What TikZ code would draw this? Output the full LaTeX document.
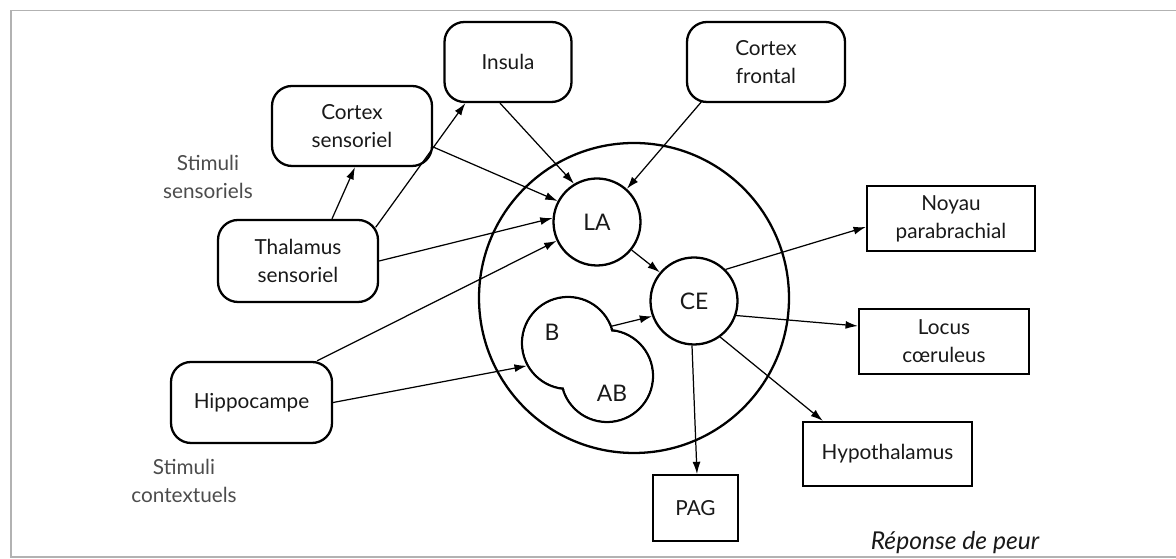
\documentclass[tikz,border=0pt]{standalone}
\usepackage{fontspec}
\setmainfont{Lato}
\usetikzlibrary{arrows.meta,positioning}

\begin{document}
\begin{tikzpicture}[
    >={Latex[length=7pt,width=4.5pt]},
    every node/.style={font=\fontsize{11.8}{15.9}\selectfont, text=black!90},
    region/.style={draw, line width=1.3pt, rounded corners=0.4cm, align=center, inner sep=0pt},
    output/.style={draw, line width=1.3pt, align=center, inner sep=0pt},
    nucleus/.style={draw, circle, line width=1.3pt, inner sep=0pt},
    big/.style={font=\fontsize{13}{15}\selectfont},
    link/.style={->, line width=0.7pt}
  ]
                \useasboundingbox (0,0) rectangle (23.52,11.18);
                \draw[gray!60, line width=0.6pt] (23.6,0.04) -- (0.22,0.04)
                            -- (0.22,10.97) -- (23.6,10.97);

                % sources
                \node [region, minimum width=3.2cm, minimum height=1.64cm]
                                        (thal) at (5.96,5.96) {Thalamus\\sensoriel};
                \node [region, minimum width=3.2cm, minimum height=1.6cm]
                                        (cortsens) at (7.04,8.66) {Cortex\\sensoriel};
                \node [region, minimum width=2.54cm, minimum height=1.6cm]
                                        (insula) at (10.16,9.94) {Insula};
                \node [region, minimum width=3.16cm, minimum height=1.6cm]
                                        (cortfront) at (15.32,9.94) {Cortex\\frontal};
                \node [region, minimum width=3.22cm, minimum height=1.62cm]
                                        (hippo) at (5.03,3.13) {Hippocampe};
                \node [align=center, text=black!70] (stimsens) at (4.16,7.64) {Stimuli\\sensoriels};
                \node [align=center, text=black!70] (stimctx) at (3.68,1.56) {Stimuli\\contextuels};

                % amygdala
                \node [nucleus, minimum size=6.2cm] (amyg) at (12.68,5.22) {};
                \node [nucleus, big, minimum size=1.74cm] (la) at (11.94,6.74) {LA};
                \node [nucleus, big, minimum size=1.74cm] (ce) at (13.88,5.16) {CE};
                \node [nucleus, minimum size=1.84cm] (b) at (11.36,4.32) {};
                \node [nucleus, minimum size=1.84cm] (ab) at (12.14,3.66) {};
                \fill[white] (b) circle (0.893cm);
                \fill[white] (ab) circle (0.893cm);
                \node [big] (blabel) at (11.04,4.54) {B};
                \node [big] (ablabel) at (12.24,3.32) {AB};

                % outputs
                \node [output, minimum width=3.36cm, minimum height=1.3cm]
                                        (noyau) at (19.02,6.81) {Noyau\\parabrachial};
                \node [output, minimum width=3.4cm, minimum height=1.3cm]
                                        (locus) at (18.88,4.35) {Locus\\cœruleus};
                \node [output, minimum width=3.38cm, minimum height=1.28cm]
                                        (hypo) at (17.75,2.10) {Hypothalamus};
                \node [output, minimum width=1.7cm, minimum height=1.32cm,
                        below = 2.57cm of ce, xshift=0.03cm]
                                        (pag) {PAG};
                \node [font=\fontsize{14}{16}\selectfont\itshape]
                                        (reponse) at (19.1,0.32) {Réponse de peur};

                \draw[link] ([xshift=0.68cm]thal.north) -- ([xshift=0.06cm]cortsens.south);
                \draw[link] ([shift={(-0.07,-0.17)}]thal.north east) -- ([xshift=0.44cm]insula.south west);
                \draw[link] (thal.east) -- (la.175);
                \draw[link] ([yshift=-0.42cm]cortsens.east) -- (la.152);
                \draw[link] ([xshift=-0.16cm]insula.south) -- (la.121);
                \draw[link] ([shift={(-1.28,0.04)}]cortfront.south) -- (la.48);
                \draw[link] ([xshift=-0.32cm]hippo.north east) -- (la.205);
                \draw[link] (hippo.east) -- (b.209);
                \draw[link] (la.-39) -- (ce.140);
                \draw[link] (b.21) -- (ce.200);

                \draw[link] (ce.45) -- ([yshift=-0.17cm]noyau.west);
                \draw[link] (ce.-19) -- ([yshift=0.31cm]locus.west);
                \draw[link] (ce.-54) -- ([xshift=0.42cm]hypo.north west);
                \draw[link] ([xshift=-0.04cm]ce.south) -- ([xshift=0.03cm]pag.north);
\end{tikzpicture}
\end{document}
